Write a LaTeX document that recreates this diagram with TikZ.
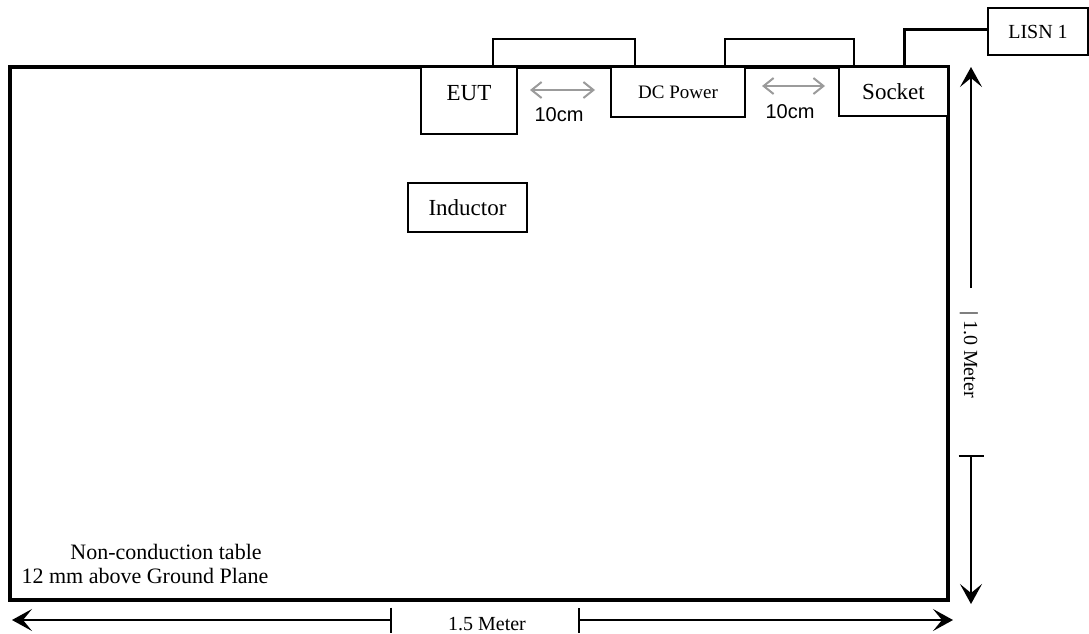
\documentclass[tikz,border=0pt]{standalone}
\usepackage{fontspec}
\setmainfont{Liberation Serif}
\newfontfamily\arialf{Liberation Sans}
\usetikzlibrary{arrows.meta}
\definecolor{arrgray}{RGB}{155,155,155}
\newcommand{\fsz}[1]{\fontsize{#1}{#1}\selectfont}
\begin{document}
\begin{tikzpicture}[x=1pt,y=-1pt,
  box/.style={draw, line width=2pt, inner sep=0pt, rectangle},
  thinline/.style={line width=1.5pt},
  wire/.style={line width=3pt},
  txt/.style={inner sep=0pt, font=\fsz{23}},
  smalltxt/.style={inner sep=0pt, font=\fsz{19}},
  sanstxt/.style={inner sep=0pt, font=\arialf\fsz{20}},
  grayarrow/.style={draw=arrgray, line width=2pt, {Straight Barb[length=10pt,width=16pt]}-{Straight Barb[length=10pt,width=16pt]}},
  blkarrow/.style={line width=1.8pt, -{Stealth[length=20pt,width=22pt,inset=9pt]}},
  barblkarrow/.style={line width=1.8pt, {Bar[width=25pt]}-{Stealth[length=20pt,width=22pt,inset=9pt]}}
]
\useasboundingbox (0,0) rectangle (1089,633);
% table
\node[draw, line width=3.2pt, inner sep=0pt, minimum width=938pt, minimum height=533pt] (table) at (479,333.5) {};
% boxes
\node[box, fill=white, minimum width=96pt, minimum height=67pt] (EUT) at (469,100.5) {};
\node[txt] (EUTtxt) at ([yshift=7.5pt]EUT.center) {EUT};
\node[box, fill=white, minimum width=134pt, minimum height=50pt, smalltxt] (DC) at (678,92) {DC Power};
\node[box, fill=white, minimum width=109pt, minimum height=49pt, txt] (Socket) at (893.5,91.5) {Socket};
\node[box, minimum width=119pt, minimum height=49pt, txt] (Ind) at (467.5,207.5) {Inductor};
\node[box, minimum width=100pt, minimum height=47pt, font=\fsz{20}] (LISN) at (1038,31.5) {LISN 1};
% cables
\draw[thinline] ([xshift=24pt]EUT.north) -- ++(0,-27) -| ([xshift=-43pt]DC.north);
\draw[thinline] ([xshift=47pt]DC.north) -- ++(0,-27) -| ([xshift=-39.5pt]Socket.north);
\draw[wire] ([xshift=10.5pt]Socket.north) |- ([yshift=2.5pt]LISN.west);
% 10cm spacings
\coordinate (g1a) at (530,90);
\coordinate (g1b) at (595,90);
\coordinate (g2a) at (762,86);
\coordinate (g2b) at (825,86);
\draw[grayarrow] (g1a) -- (g1b);
\draw[grayarrow] (g2a) -- (g2b);
\node[sanstxt] (d1) at (559,115) {10cm};
\node[sanstxt] (d2) at (790,112) {10cm};
% table text
\node[inner sep=0pt, font=\fsz{22}] (t1) at (166,552) {Non-conduction table};
\node[inner sep=0pt, font=\fsz{22}] (t2) at (145,576) {12 mm above Ground Plane};
% dimension 1.5 m
\coordinate (hl) at (12,620);
\coordinate (hm1) at (392,620);
\coordinate (hm2) at (578,620);
\coordinate (hr) at (953,620);
\draw[barblkarrow] (hm1) -- (hl);
\draw[barblkarrow] (hm2) -- (hr);
\node[inner sep=0pt, font=\fsz{20}] (w) at (487,624) {1.5 Meter};
% dimension 1.0 m
\coordinate (vt) at (971,67);
\coordinate (vm1) at (971,288);
\coordinate (vm2) at (971,455);
\coordinate (vb) at (971,604);
\draw[blkarrow] (vm1) -- (vt);
\draw[barblkarrow] (vm2) -- (vb);
\node[inner sep=0pt, font=\fsz{20}, rotate=-90, anchor=west] (h) at (969,311) {| 1.0 Meter};
\end{tikzpicture}
\end{document}
